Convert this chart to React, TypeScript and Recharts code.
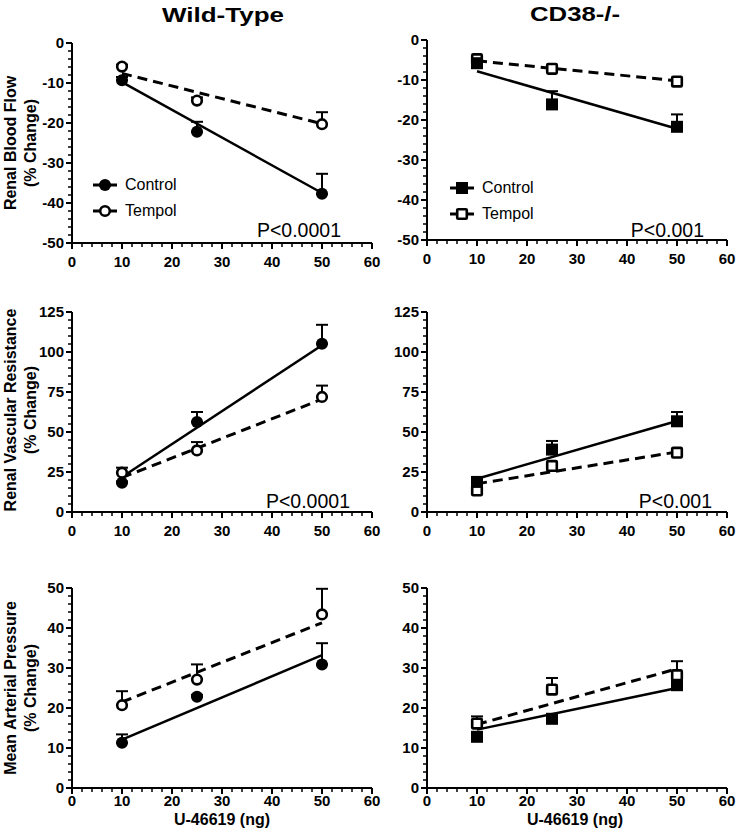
import React from "react";
import { ComposedChart, Scatter, Line, XAxis, YAxis, ErrorBar, Legend } from "recharts";

const FONT = "'Liberation Sans', Arial, sans-serif";

// U-46619 doses (ng) and the two ends of each regression line
const doses = [10, 25, 50];
const fitDoses = [10, 50];
const xMajor = [0, 10, 20, 30, 40, 50, 60];
const legendItems = ["Control", "Tempol"];

// Renal blood flow (% change)
const wtRbfControl = [-9.3, -22.2, -37.7];
const wtRbfControlSem = [0.8, 2.5, 5.0];
const wtRbfTempol = [-5.9, -14.4, -20.3];
const wtRbfTempolSem = [0.5, 0.8, 3.0];
const wtRbfControlFit = [-9.8, -37.5];
const wtRbfTempolFit = [-7.6, -20.2];

const koRbfControl = [-5.8, -16.1, -21.7];
const koRbfControlSem = [0.6, 3.3, 3.1];
const koRbfTempol = [-4.8, -7.2, -10.4];
const koRbfTempolSem = [0.5, 0.6, 0.8];
const koRbfControlFit = [-7.8, -22.2];
const koRbfTempolFit = [-5.2, -10.2];

// Renal vascular resistance (% change)
const wtRvrControl = [18.3, 56.3, 105.2];
const wtRvrControlSem = [0.8, 6.2, 11.8];
const wtRvrTempol = [24.6, 38.5, 71.9];
const wtRvrTempolSem = [3.1, 5.2, 7.1];
const wtRvrControlFit = [21.9, 104.2];
const wtRvrTempolFit = [21.5, 70.5];

const koRvrControl = [18.8, 39.0, 56.7];
const koRvrControlSem = [1.0, 5.4, 5.8];
const koRvrTempol = [13.5, 28.8, 37.1];
const koRvrTempolSem = [0.8, 1.0, 1.0];
const koRvrControlFit = [20.8, 56.9];
const koRvrTempolFit = [17.7, 37.5];

// Mean arterial pressure (% change)
const wtMapControl = [11.3, 22.8, 30.9];
const wtMapControlSem = [2.1, 0.5, 5.3];
const wtMapTempol = [20.7, 27.1, 43.4];
const wtMapTempolSem = [3.5, 3.8, 6.4];
const wtMapControlFit = [12.1, 33.2];
const wtMapTempolFit = [21.5, 41.3];

const koMapControl = [12.8, 17.3, 25.7];
const koMapControlSem = [0.8, 0.5, 0.8];
const koMapTempol = [16.1, 24.6, 28.2];
const koMapTempolSem = [1.8, 2.9, 3.5];
const koMapControlFit = [14.6, 25.0];
const koMapTempolFit = [15.9, 29.8];

const rbfMajor = [-50, -40, -30, -20, -10, 0];
const rvrMajor = [0, 25, 50, 75, 100, 125];
const mapMajor = [0, 10, 20, 30, 40, 50];

const steps = (from: number, to: number, step: number) => {
  const out: number[] = [];
  for (let v = from; v <= to; v += step) out.push(v);
  return out;
};
const xTicks = steps(0, 60, 2);

const points = (ys: number[], sem: number[]) =>
  doses.map((x, i) => ({ x, y: ys[i], err: [0, sem[i]] }));
const fit = (ys: number[]) => fitDoses.map((x, i) => ({ x, y: ys[i] }));

const Y_AXIS_W = 72;
const PLOT_W = 300;
const PLOT_H = 200;
const TOP_PAD = 10;
const RIGHT_PAD = 16;

const filledCircle = (p: any) => <circle cx={p.cx} cy={p.cy} r={6} fill="#000" />;
const openCircle = (p: any) => (
  <circle cx={p.cx} cy={p.cy} r={4.8} fill="#fff" stroke="#000" strokeWidth={2.6} />
);
const filledSquare = (p: any) => (
  <rect x={p.cx - 6} y={p.cy - 6} width={12} height={12} fill="#000" />
);
const openSquare = (p: any) => (
  <rect x={p.cx - 4.8} y={p.cy - 4.8} width={9.6} height={9.6} rx={1} fill="#fff" stroke="#000" strokeWidth={2.6} />
);

function XTick(props: any) {
  const { x, y, payload, labelDy } = props;
  const major = xMajor.includes(payload.value);
  return (
    <g>
      <line x1={x} x2={x} y1={y} y2={y + (major ? 6 : 4)} stroke="#000" strokeWidth={major ? 2 : 1.5} />
      {major && (
        <text x={x} y={y + labelDy} textAnchor="middle" fontFamily={FONT} fontWeight="bold" fontSize={15} fill="#000">
          {payload.value}
        </text>
      )}
    </g>
  );
}

function YTick(props: any) {
  const { x, y, payload, majors } = props;
  const major = majors.includes(payload.value);
  return (
    <g>
      <line x1={x} x2={x - (major ? 6 : 4)} y1={y} y2={y} stroke="#000" strokeWidth={major ? 2 : 1.5} />
      {major && (
        <text x={x - 8} y={y + 5} textAnchor="end" fontFamily={FONT} fontWeight="bold" fontSize={15} fill="#000">
          {payload.value}
        </text>
      )}
    </g>
  );
}

type PanelDef = {
  plotLeft: number;
  plotTop: number;
  yDomain: [number, number];
  yMajor: number[];
  yStep: number;
  control: number[];
  controlSem: number[];
  tempol: number[];
  tempolSem: number[];
  controlFit: number[];
  tempolFit: number[];
  square?: boolean;
  tickDy?: number;
  legend?: { x: number; y: number };
};

function Panel({ def }: { def: PanelDef }) {
  const chartLeft = def.plotLeft - Y_AXIS_W;
  const chartTop = def.plotTop - TOP_PAD;
  const xh = 30;
  const shapes = def.square ? [filledSquare, openSquare] : [filledCircle, openCircle];
  const yTicks = steps(def.yDomain[0], def.yDomain[1], def.yStep);

  const renderLegend = () => (
    <div style={{ fontFamily: FONT, fontSize: 16, color: "#000" }}>
      {legendItems.map((name, i) => (
        <div key={name} style={{ display: "flex", alignItems: "center", height: 26 }}>
          <svg width={26} height={16} style={{ marginRight: 7 }}>
            <line x1={1} x2={25} y1={8} y2={8} stroke="#000" strokeWidth={3} />
            {shapes[i]({ cx: 13, cy: 8 })}
          </svg>
          <span>{name}</span>
        </div>
      ))}
    </div>
  );

  return (
    <div style={{ position: "absolute", left: chartLeft, top: chartTop }}>
      <ComposedChart
        width={Y_AXIS_W + PLOT_W + RIGHT_PAD}
        height={TOP_PAD + PLOT_H + xh}
        margin={{ top: TOP_PAD, right: RIGHT_PAD, bottom: 0, left: 0 }}
      >
        <XAxis
          type="number"
          dataKey="x"
          domain={[0, 60]}
          ticks={xTicks}
          interval={0}
          tickSize={0}
          tickMargin={0}
          tickLine={false}
          tick={(p: any) => <XTick {...p} labelDy={def.tickDy ?? 24} />}
          axisLine={{ stroke: "#000", strokeWidth: 2 }}
          height={xh}
          allowDataOverflow
        />
        <YAxis
          type="number"
          domain={def.yDomain}
          ticks={yTicks}
          interval={0}
          tickSize={0}
          tickMargin={0}
          tickLine={false}
          tick={(p: any) => <YTick {...p} majors={def.yMajor} />}
          axisLine={{ stroke: "#000", strokeWidth: 2 }}
          width={Y_AXIS_W}
          allowDataOverflow
        />
        <Line data={fit(def.controlFit)} dataKey="y" type="linear" stroke="#000" strokeWidth={2.5} dot={false} isAnimationActive={false} />
        <Line data={fit(def.tempolFit)} dataKey="y" type="linear" stroke="#000" strokeWidth={3} strokeDasharray="10 6" dot={false} isAnimationActive={false} />
        <Scatter name="Tempol" data={points(def.tempol, def.tempolSem)} dataKey="y" shape={shapes[1]} isAnimationActive={false}>
          <ErrorBar dataKey="err" direction="y" width={6} stroke="#000" strokeWidth={2} isAnimationActive={false} />
        </Scatter>
        <Scatter name="Control" data={points(def.control, def.controlSem)} dataKey="y" shape={shapes[0]} isAnimationActive={false}>
          <ErrorBar dataKey="err" direction="y" width={6} stroke="#000" strokeWidth={2} isAnimationActive={false} />
        </Scatter>
        {def.legend && (
          <Legend
            layout="vertical"
            align="center"
            verticalAlign="middle"
            content={renderLegend}
            wrapperStyle={{ left: def.legend.x - chartLeft, top: def.legend.y - chartTop, width: 120 }}
          />
        )}
      </ComposedChart>
    </div>
  );
}

const panels: PanelDef[] = [
  {
    plotLeft: 72, plotTop: 43, yDomain: [-50, 0], yMajor: rbfMajor, yStep: 2,
    control: wtRbfControl, controlSem: wtRbfControlSem, tempol: wtRbfTempol, tempolSem: wtRbfTempolSem,
    controlFit: wtRbfControlFit, tempolFit: wtRbfTempolFit, legend: { x: 92, y: 172 },
  },
  {
    plotLeft: 427, plotTop: 40, yDomain: [-50, 0], yMajor: rbfMajor, yStep: 2, square: true,
    control: koRbfControl, controlSem: koRbfControlSem, tempol: koRbfTempol, tempolSem: koRbfTempolSem,
    controlFit: koRbfControlFit, tempolFit: koRbfTempolFit, legend: { x: 449, y: 175 },
  },
  {
    plotLeft: 72, plotTop: 312, yDomain: [0, 125], yMajor: rvrMajor, yStep: 5,
    control: wtRvrControl, controlSem: wtRvrControlSem, tempol: wtRvrTempol, tempolSem: wtRvrTempolSem,
    controlFit: wtRvrControlFit, tempolFit: wtRvrTempolFit,
  },
  {
    plotLeft: 427, plotTop: 312, yDomain: [0, 125], yMajor: rvrMajor, yStep: 5, square: true,
    control: koRvrControl, controlSem: koRvrControlSem, tempol: koRvrTempol, tempolSem: koRvrTempolSem,
    controlFit: koRvrControlFit, tempolFit: koRvrTempolFit,
  },
  {
    plotLeft: 72, plotTop: 588, yDomain: [0, 50], yMajor: mapMajor, yStep: 2, tickDy: 18,
    control: wtMapControl, controlSem: wtMapControlSem, tempol: wtMapTempol, tempolSem: wtMapTempolSem,
    controlFit: wtMapControlFit, tempolFit: wtMapTempolFit,
  },
  {
    plotLeft: 427, plotTop: 588, yDomain: [0, 50], yMajor: mapMajor, yStep: 2, square: true, tickDy: 18,
    control: koMapControl, controlSem: koMapControlSem, tempol: koMapTempol, tempolSem: koMapTempolSem,
    controlFit: koMapControlFit, tempolFit: koMapTempolFit,
  },
];

function YLabel({ cy, lines }: { cy: number; lines: string[] }) {
  return (
    <g fontFamily={FONT} fontWeight="bold" fontSize={16} fill="#000" textAnchor="middle">
      <text x={16} y={cy} transform={`rotate(-90, 16, ${cy})`}>{lines[0]}</text>
      <text x={36} y={cy} transform={`rotate(-90, 36, ${cy})`}>{lines[1]}</text>
    </g>
  );
}

export default function App() {
  return (
    <div style={{ position: "absolute", left: 0, top: 0, width: 737, height: 837, background: "#fff" }}>
      {panels.map((def, i) => (
        <Panel key={i} def={def} />
      ))}
      <svg width={737} height={837} style={{ position: "absolute", left: 0, top: 0, pointerEvents: "none" }}>
        <g fontFamily={FONT} fontWeight="bold" fontSize={21} fill="#000" textAnchor="middle">
          <text x={223} y={22} textLength={122} lengthAdjust="spacingAndGlyphs">Wild-Type</text>
          <text x={575} y={21} textLength={90} lengthAdjust="spacingAndGlyphs">CD38-/-</text>
        </g>
        <YLabel cy={143} lines={["Renal Blood Flow", "(% Change)"]} />
        <YLabel cy={410} lines={["Renal Vascular Resistance", "(% Change)"]} />
        <YLabel cy={688} lines={["Mean Arterial Pressure", "(% Change)"]} />
        <g fontFamily={FONT} fontSize={19.5} fill="#000" textAnchor="end">
          <text x={341} y={237}>P&lt;0.0001</text>
          <text x={704} y={237}>P&lt;0.001</text>
          <text x={350} y={508}>P&lt;0.0001</text>
          <text x={712} y={508}>P&lt;0.001</text>
        </g>
        <g fontFamily={FONT} fontWeight="bold" fontSize={16} fill="#000" textAnchor="middle">
          <text x={222} y={825}>U-46619 (ng)</text>
          <text x={575} y={825}>U-46619 (ng)</text>
        </g>
      </svg>
    </div>
  );
}
